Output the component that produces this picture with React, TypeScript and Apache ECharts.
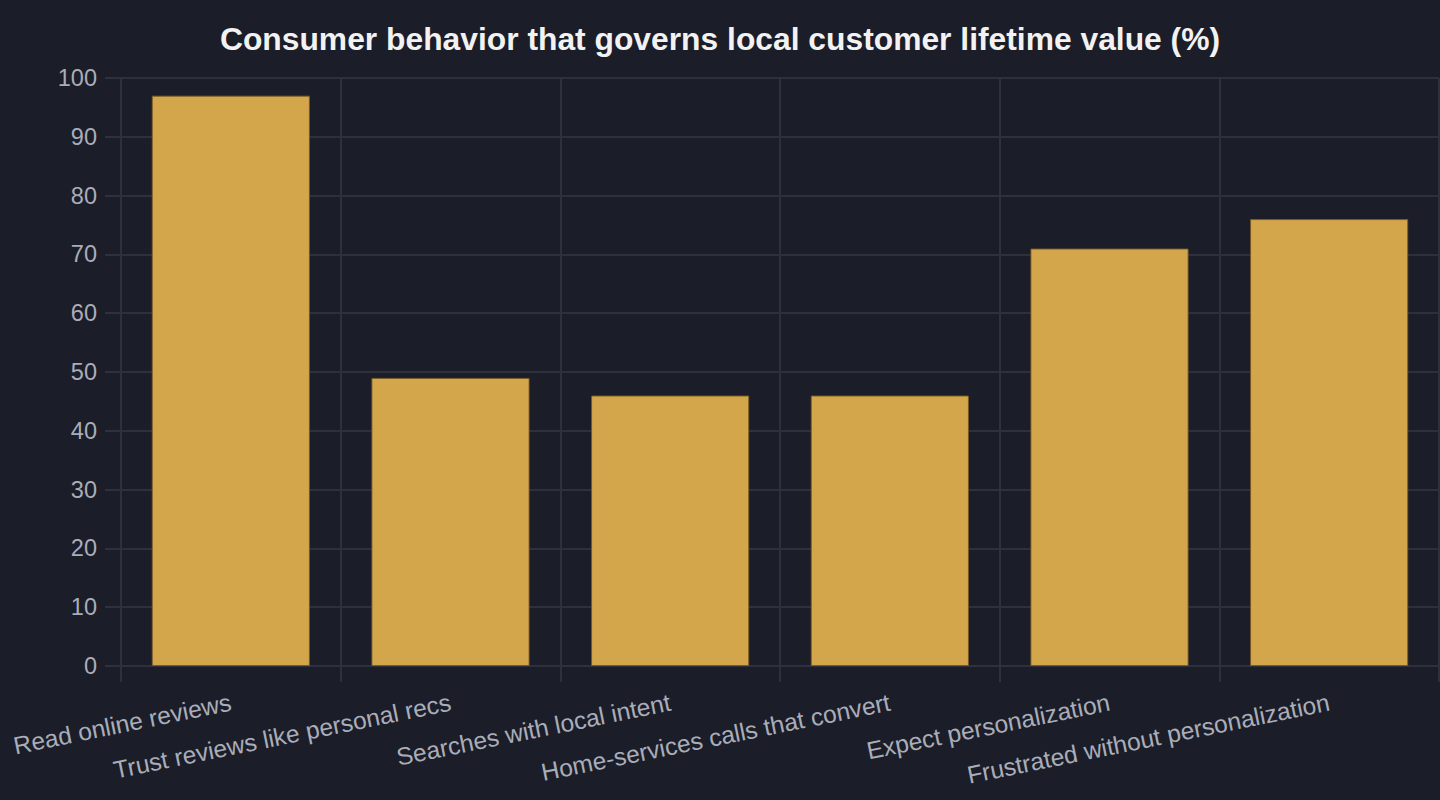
import React, { useEffect, useRef } from "react";
import * as echarts from "echarts";

const categories = [
  "Read online reviews",
  "Trust reviews like personal recs",
  "Searches with local intent",
  "Home-services calls that convert",
  "Expect personalization",
  "Frustrated without personalization",
];
const values = [97, 49, 46, 46, 71, 76];

const BG = "#1b1d28";
const GRID = "#2e303d";
const LABEL = "#a9adb9";
const BAR = "#d3a64c";
const FONT = "Liberation Sans, Arial, sans-serif";

export default function App() {
  const ref = useRef<HTMLDivElement>(null);

  useEffect(() => {
    document.body.style.margin = "0";
    document.body.style.background = BG;
    if (!ref.current) return;
    const chart = echarts.init(ref.current, null, { renderer: "svg" });
    chart.setOption({
      animation: false,
      backgroundColor: BG,
      textStyle: { fontFamily: FONT },
      title: {
        text: "Consumer behavior that governs local customer lifetime value (%)",
        left: "center",
        top: 18,
        textStyle: {
          color: "#f2f2f2",
          fontSize: 31.8,
          fontWeight: "bold",
          fontFamily: FONT,
        },
      },
      grid: { left: 121, right: 1, top: 78, bottom: 134, containLabel: false },
      xAxis: {
        type: "category",
        data: categories,
        boundaryGap: true,
        axisLine: { show: true, lineStyle: { color: GRID, width: 2 } },
        axisTick: { show: true, length: 16, lineStyle: { color: GRID, width: 2 } },
        splitLine: { show: true, lineStyle: { color: GRID, width: 2 } },
        axisLabel: {
          color: LABEL,
          fontSize: 24.6,
          rotate: 11.5,
          margin: 36,
          interval: 0,
        },
      },
      yAxis: {
        type: "value",
        min: 0,
        max: 100,
        interval: 10,
        axisLine: { show: false },
        axisTick: { show: true, length: 16, lineStyle: { color: GRID, width: 2 } },
        splitLine: { show: true, lineStyle: { color: GRID, width: 2 } },
        axisLabel: { color: LABEL, fontSize: 23.5, margin: 24 },
      },
      series: [
        {
          type: "bar",
          data: values,
          barWidth: "72%",
          itemStyle: {
            color: BAR,
            borderColor: "rgba(120,90,35,0.9)",
            borderWidth: 1,
          },
        },
      ],
    });
    return () => chart.dispose();
  }, []);

  return <div ref={ref} style={{ width: 1440, height: 800 }} />;
}
